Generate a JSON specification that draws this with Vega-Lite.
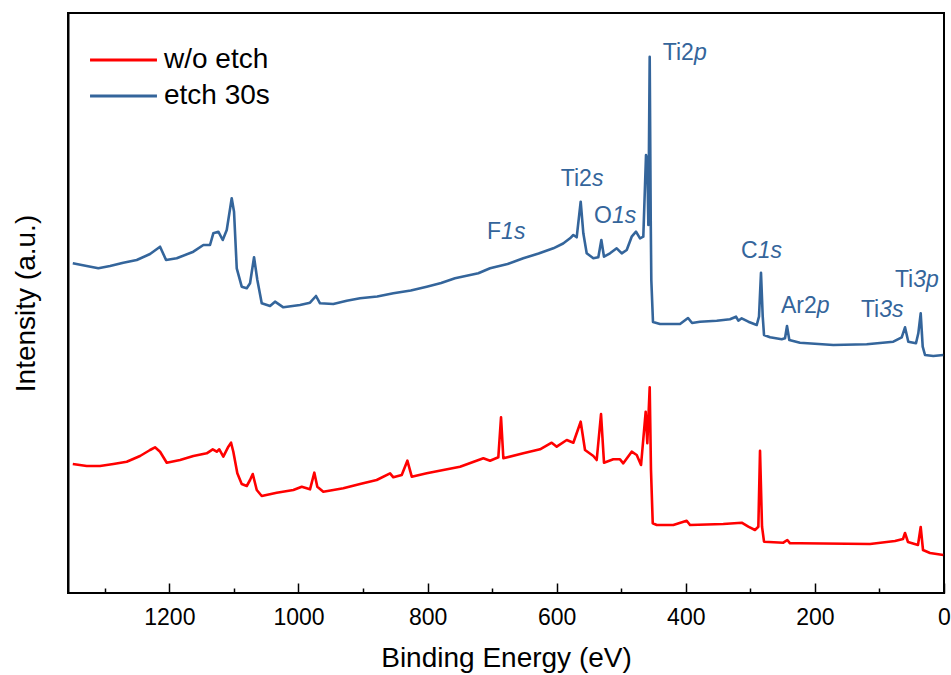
{
  "$schema": "https://vega.github.io/schema/vega-lite/v6.json",
  "width": 876,
  "height": 580,
  "autosize": {"type": "none"},
  "padding": {"left": 68, "top": 13, "right": 7, "bottom": 82},
  "config": {
    "view": {"stroke": "#000", "strokeWidth": 2},
    "font": "Liberation Sans",
    "axis": {"grid": false, "domainColor": "#000", "domainWidth": 2, "tickColor": "#000", "tickWidth": 1.5, "labelColor": "#000", "titleColor": "#000", "titleFontWeight": "normal"}
  },
  "datasets": {
    "spectra": [
      {"series":"etch 30s","E":1349.6,"I":329.7},{"series":"etch 30s","E":1328.0,"I":327},{"series":"etch 30s","E":1310.0,"I":324.7},{"series":"etch 30s","E":1291.9,"I":327},{"series":"etch 30s","E":1271.3,"I":330.3},{"series":"etch 30s","E":1250.5,"I":333},{"series":"etch 30s","E":1229.9,"I":339},{"series":"etch 30s","E":1214.4,"I":346.3},{"series":"etch 30s","E":1205.1,"I":333},{"series":"etch 30s","E":1188.6,"I":334.7},{"series":"etch 30s","E":1162.8,"I":341.3},{"series":"etch 30s","E":1147.3,"I":348},{"series":"etch 30s","E":1137.0,"I":348},{"series":"etch 30s","E":1131.9,"I":359.7},{"series":"etch 30s","E":1124.1,"I":361.3},{"series":"etch 30s","E":1117.3,"I":353},{"series":"etch 30s","E":1111.1,"I":363},{"series":"etch 30s","E":1103.4,"I":394.7},{"series":"etch 30s","E":1099.8,"I":381.3},{"series":"etch 30s","E":1095.6,"I":324.7},{"series":"etch 30s","E":1087.9,"I":306.3},{"series":"etch 30s","E":1080.1,"I":304.7},{"series":"etch 30s","E":1075.0,"I":309.7},{"series":"etch 30s","E":1068.8,"I":335.7},{"series":"etch 30s","E":1063.7,"I":313},{"series":"etch 30s","E":1056.9,"I":289.7},{"series":"etch 30s","E":1044.0,"I":287},{"series":"etch 30s","E":1036.3,"I":291.3},{"series":"etch 30s","E":1023.4,"I":285.7},{"series":"etch 30s","E":997.6,"I":288},{"series":"etch 30s","E":982.1,"I":290.3},{"series":"etch 30s","E":972.8,"I":297},{"series":"etch 30s","E":966.6,"I":289.7},{"series":"etch 30s","E":946.0,"I":289},{"series":"etch 30s","E":925.2,"I":292.3},{"series":"etch 30s","E":904.6,"I":294.7},{"series":"etch 30s","E":878.0,"I":296.5},{"series":"etch 30s","E":853.0,"I":299.7},{"series":"etch 30s","E":826.0,"I":302.5},{"series":"etch 30s","E":801.3,"I":306.3},{"series":"etch 30s","E":779.0,"I":310},{"series":"etch 30s","E":757.5,"I":314.7},{"series":"etch 30s","E":721.4,"I":319.7},{"series":"etch 30s","E":703.2,"I":324.7},{"series":"etch 30s","E":676.0,"I":329},{"series":"etch 30s","E":651.7,"I":334.7},{"series":"etch 30s","E":628.0,"I":339.5},{"series":"etch 30s","E":605.2,"I":344.7},{"series":"etch 30s","E":590.0,"I":349.5},{"series":"etch 30s","E":579.3,"I":354.7},{"series":"etch 30s","E":574.2,"I":358},{"series":"etch 30s","E":569.0,"I":355.7},{"series":"etch 30s","E":562.8,"I":391.3},{"series":"etch 30s","E":558.7,"I":359.7},{"series":"etch 30s","E":553.5,"I":339.7},{"series":"etch 30s","E":543.2,"I":334.7},{"series":"etch 30s","E":535.5,"I":335.7},{"series":"etch 30s","E":530.8,"I":353},{"series":"etch 30s","E":526.7,"I":336.3},{"series":"etch 30s","E":517.4,"I":339.7},{"series":"etch 30s","E":507.0,"I":344.7},{"series":"etch 30s","E":499.2,"I":339.7},{"series":"etch 30s","E":491.5,"I":343},{"series":"etch 30s","E":483.8,"I":356.3},{"series":"etch 30s","E":477.1,"I":361.3},{"series":"etch 30s","E":470.9,"I":354.7},{"series":"etch 30s","E":465.8,"I":356.3},{"series":"etch 30s","E":461.6,"I":438},{"series":"etch 30s","E":459.6,"I":433},{"series":"etch 30s","E":458.0,"I":368},{"series":"etch 30s","E":455.9,"I":536.3},{"series":"etch 30s","E":454.3,"I":373},{"series":"etch 30s","E":453.4,"I":313},{"series":"etch 30s","E":450.8,"I":271},{"series":"etch 30s","E":439.9,"I":269},{"series":"etch 30s","E":408.9,"I":269},{"series":"etch 30s","E":396.5,"I":275},{"series":"etch 30s","E":390.3,"I":270},{"series":"etch 30s","E":378.0,"I":271.3},{"series":"etch 30s","E":352.1,"I":272.3},{"series":"etch 30s","E":331.5,"I":273.7},{"series":"etch 30s","E":322.2,"I":276.3},{"series":"etch 30s","E":318.6,"I":272.3},{"series":"etch 30s","E":313.4,"I":274.7},{"series":"etch 30s","E":303.1,"I":271.3},{"series":"etch 30s","E":290.1,"I":268},{"series":"etch 30s","E":286.6,"I":276.3},{"series":"etch 30s","E":283.5,"I":320.3},{"series":"etch 30s","E":280.8,"I":276.3},{"series":"etch 30s","E":278.8,"I":258},{"series":"etch 30s","E":269.5,"I":255.7},{"series":"etch 30s","E":251.4,"I":253.7},{"series":"etch 30s","E":246.3,"I":254.7},{"series":"etch 30s","E":243.2,"I":267},{"series":"etch 30s","E":239.6,"I":253},{"series":"etch 30s","E":223.1,"I":250.3},{"series":"etch 30s","E":171.5,"I":248},{"series":"etch 30s","E":119.7,"I":248.7},{"series":"etch 30s","E":78.5,"I":251.3},{"series":"etch 30s","E":65.5,"I":255.7},{"series":"etch 30s","E":60.4,"I":265.7},{"series":"etch 30s","E":55.3,"I":251.3},{"series":"etch 30s","E":43.4,"I":249.7},{"series":"etch 30s","E":39.8,"I":259.7},{"series":"etch 30s","E":36.1,"I":279.7},{"series":"etch 30s","E":33.0,"I":246.3},{"series":"etch 30s","E":29.4,"I":238},{"series":"etch 30s","E":16.6,"I":237},{"series":"etch 30s","E":1.1,"I":238},
      {"series":"w/o etch","E":1349.6,"I":129},{"series":"w/o etch","E":1328.0,"I":127},{"series":"w/o etch","E":1307.4,"I":127},{"series":"w/o etch","E":1286.7,"I":129},{"series":"w/o etch","E":1266.0,"I":131.3},{"series":"w/o etch","E":1245.4,"I":137},{"series":"w/o etch","E":1229.9,"I":143},{"series":"w/o etch","E":1222.2,"I":145.7},{"series":"w/o etch","E":1214.4,"I":141.3},{"series":"w/o etch","E":1204.0,"I":130.3},{"series":"w/o etch","E":1183.4,"I":133},{"series":"w/o etch","E":1162.8,"I":137},{"series":"w/o etch","E":1142.1,"I":139.7},{"series":"w/o etch","E":1132.8,"I":143.7},{"series":"w/o etch","E":1126.6,"I":141.3},{"series":"w/o etch","E":1122.6,"I":143.7},{"series":"w/o etch","E":1116.4,"I":136.3},{"series":"w/o etch","E":1108.6,"I":146.3},{"series":"w/o etch","E":1104.4,"I":150.3},{"series":"w/o etch","E":1100.9,"I":141.3},{"series":"w/o etch","E":1094.7,"I":119.7},{"series":"w/o etch","E":1087.9,"I":109},{"series":"w/o etch","E":1080.1,"I":107},{"series":"w/o etch","E":1075.0,"I":113},{"series":"w/o etch","E":1070.8,"I":119},{"series":"w/o etch","E":1064.6,"I":103},{"series":"w/o etch","E":1056.9,"I":97},{"series":"w/o etch","E":1033.7,"I":100.3},{"series":"w/o etch","E":1007.9,"I":103},{"series":"w/o etch","E":994.9,"I":106.3},{"series":"w/o etch","E":982.1,"I":103.7},{"series":"w/o etch","E":975.4,"I":120.3},{"series":"w/o etch","E":970.8,"I":106.3},{"series":"w/o etch","E":961.5,"I":101.3},{"series":"w/o etch","E":930.5,"I":104.7},{"series":"w/o etch","E":904.6,"I":109},{"series":"w/o etch","E":878.8,"I":113},{"series":"w/o etch","E":858.1,"I":119.7},{"series":"w/o etch","E":853.0,"I":115.7},{"series":"w/o etch","E":840.0,"I":118},{"series":"w/o etch","E":831.3,"I":132.3},{"series":"w/o etch","E":824.5,"I":116.3},{"series":"w/o etch","E":801.3,"I":119.7},{"series":"w/o etch","E":775.6,"I":123},{"series":"w/o etch","E":749.7,"I":126.3},{"series":"w/o etch","E":713.6,"I":134.7},{"series":"w/o etch","E":703.2,"I":132.3},{"series":"w/o etch","E":690.4,"I":135.7},{"series":"w/o etch","E":686.2,"I":175.7},{"series":"w/o etch","E":682.6,"I":134.7},{"series":"w/o etch","E":651.7,"I":139.7},{"series":"w/o etch","E":625.8,"I":143.7},{"series":"w/o etch","E":607.7,"I":150.3},{"series":"w/o etch","E":599.9,"I":146.3},{"series":"w/o etch","E":584.4,"I":153},{"series":"w/o etch","E":574.2,"I":150.3},{"series":"w/o etch","E":562.8,"I":171.3},{"series":"w/o etch","E":556.1,"I":143},{"series":"w/o etch","E":543.2,"I":137},{"series":"w/o etch","E":538.0,"I":133},{"series":"w/o etch","E":531.3,"I":179},{"series":"w/o etch","E":526.7,"I":130.3},{"series":"w/o etch","E":512.3,"I":133.7},{"series":"w/o etch","E":501.9,"I":133.7},{"series":"w/o etch","E":496.8,"I":129.7},{"series":"w/o etch","E":483.8,"I":141.3},{"series":"w/o etch","E":476.0,"I":138},{"series":"w/o etch","E":469.3,"I":128},{"series":"w/o etch","E":462.1,"I":181.3},{"series":"w/o etch","E":459.6,"I":149.7},{"series":"w/o etch","E":455.9,"I":205.7},{"series":"w/o etch","E":453.9,"I":123},{"series":"w/o etch","E":451.2,"I":69.7},{"series":"w/o etch","E":445.0,"I":68},{"series":"w/o etch","E":419.3,"I":68},{"series":"w/o etch","E":398.6,"I":72.3},{"series":"w/o etch","E":393.4,"I":68},{"series":"w/o etch","E":341.9,"I":69},{"series":"w/o etch","E":313.4,"I":70.3},{"series":"w/o etch","E":303.1,"I":66.3},{"series":"w/o etch","E":292.8,"I":63},{"series":"w/o etch","E":287.6,"I":66.3},{"series":"w/o etch","E":285.0,"I":142.3},{"series":"w/o etch","E":281.9,"I":66.3},{"series":"w/o etch","E":278.8,"I":51.3},{"series":"w/o etch","E":248.9,"I":50.3},{"series":"w/o etch","E":242.7,"I":53},{"series":"w/o etch","E":238.5,"I":49.7},{"series":"w/o etch","E":223.1,"I":49.7},{"series":"w/o etch","E":114.6,"I":49},{"series":"w/o etch","E":75.9,"I":52},{"series":"w/o etch","E":63.5,"I":54},{"series":"w/o etch","E":60.4,"I":60},{"series":"w/o etch","E":55.8,"I":51},{"series":"w/o etch","E":40.3,"I":48},{"series":"w/o etch","E":36.1,"I":66},{"series":"w/o etch","E":32.5,"I":43},{"series":"w/o etch","E":21.7,"I":40},{"series":"w/o etch","E":1.1,"I":38}
    ],
    "labels": [
      {"E":387.4,"I":533,"a":"Ti2","b":"p"},
      {"E":545.4,"I":407,"a":"Ti2","b":"s"},
      {"E":514.4,"I":370,"a":"O","b":"1s"},
      {"E":686.1,"I":354,"a":"F","b":"1s"},
      {"E":288.7,"I":335,"a":"C","b":"1s"},
      {"E":197.0,"I":280,"a":"Ar2","b":"p"},
      {"E":100.4,"I":276,"a":"Ti","b":"3s"},
      {"E":47.7,"I":306,"a":"Ti","b":"3p"}
    ]
  },
  "resolve": {"axis": {"x": "independent"}},
  "layer": [
    {
      "data": {"name": "spectra"},
      "mark": {"type": "line", "strokeWidth": 2.6, "strokeJoin": "round"},
      "encoding": {
        "x": {
          "field": "E", "type": "quantitative",
          "scale": {"domain": [0, 1357], "reverse": true, "nice": false, "zero": false},
          "axis": {"orient": "bottom", "values": [0, 200, 400, 600, 800, 1000, 1200], "format": "d", "offset": -10, "tickSize": 10, "domain": false, "labelPadding": 13, "labelFontSize": 23, "labelFlush": false, "title": "Binding Energy (eV)", "titleFontSize": 28, "titlePadding": 15}
        },
        "y": {
          "field": "I", "type": "quantitative", "title": "Intensity (a.u.)",
          "scale": {"domain": [0, 580], "nice": false, "zero": false},
          "axis": {"orient": "left", "labels": false, "ticks": false, "domain": true, "titleFontSize": 28, "titlePadding": 28}
        },
        "color": {
          "field": "series", "type": "nominal",
          "scale": {"domain": ["w/o etch", "etch 30s"], "range": ["#ff0000", "#34659b"]},
          "legend": {"orient": "none", "legendX": 41.5, "legendY": 33, "title": null, "symbolType": "M-4,0H4", "symbolSize": 280, "symbolStrokeWidth": 3, "labelFontSize": 28, "labelColor": "#000", "labelOffset": 26.5, "rowPadding": 8, "padding": 0}
        }
      }
    },
    {
      "data": {"name": "labels"},
      "mark": {"type": "text", "align": "right", "baseline": "alphabetic", "fontSize": 23, "color": "#34659b"},
      "encoding": {
        "x": {"field": "E", "type": "quantitative", "axis": {"orient": "bottom", "values": [100, 300, 500, 700, 900, 1100, 1300], "offset": -5, "tickSize": 5, "labels": false, "domain": false, "title": null}},
        "y": {"field": "I", "type": "quantitative", "title": "Intensity (a.u.)", "axis": {"orient": "left", "labels": false, "ticks": false, "domain": true, "titleFontSize": 28, "titlePadding": 28}},
        "text": {"field": "a"}
      }
    },
    {
      "data": {"name": "labels"},
      "mark": {"type": "text", "align": "left", "baseline": "alphabetic", "fontSize": 23, "fontStyle": "italic", "color": "#34659b"},
      "encoding": {
        "x": {"field": "E", "type": "quantitative", "axis": null},
        "y": {"field": "I", "type": "quantitative", "title": "Intensity (a.u.)", "axis": {"orient": "left", "labels": false, "ticks": false, "domain": true, "titleFontSize": 28, "titlePadding": 28}},
        "text": {"field": "b"}
      }
    }
  ]
}
